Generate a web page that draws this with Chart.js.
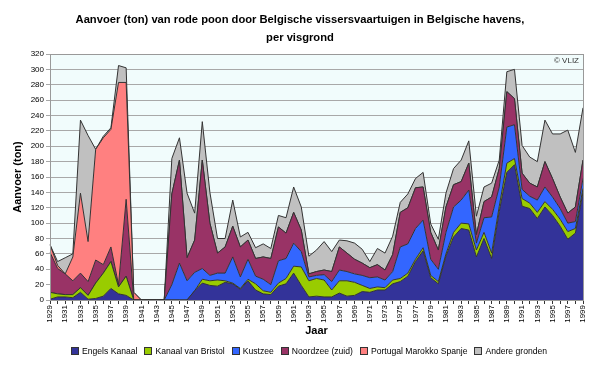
<!DOCTYPE html>
<html>
<head>
<meta charset="utf-8">
<script src="https://cdn.jsdelivr.net/npm/chart.js@4.4.1/dist/chart.umd.min.js"></script>
<style>
  body { margin: 0; background: #fff; }
  #wrap { position: relative; width: 600px; height: 368px; font-family: 'Liberation Sans', Arial, sans-serif; }
  #title {
    position: absolute; left: 0; top: 10px; width: 600px;
    text-align: center; font-weight: bold; font-size: 11.2px; line-height: 18px; color: #000;
  }
  #legend {
    position: absolute; left: 71px; top: 346px;
    display: flex; align-items: center; font-size: 8.6px; color: #000; white-space: nowrap;
  }
  #legend .item { display: flex; align-items: center; margin-right: 7px; }
  #legend .box { width: 6px; height: 6px; border: 1px solid #333; margin-right: 3px; }
</style>
</head>
<body>
<div id="wrap">
  <canvas id="chart" width="600" height="368"></canvas>
  <div id="title">Aanvoer (ton) van rode poon door Belgische vissersvaartuigen in Belgische havens,<br>per visgrond</div>
  <div id="legend"></div>
</div>
<script>
// Aanvoer rode poon per visgrond, 1929-1999 (ton)
const years = [
  "1929", "1930", "1931", "1932", "1933", "1934", "1935", "1936", "1937", "1938",
  "1939", "1940", "1941", "1942", "1943", "1944", "1945", "1946", "1947", "1948",
  "1949", "1950", "1951", "1952", "1953", "1954", "1955", "1956", "1957", "1958",
  "1959", "1960", "1961", "1962", "1963", "1964", "1965", "1966", "1967", "1968",
  "1969", "1970", "1971", "1972", "1973", "1974", "1975", "1976", "1977", "1978",
  "1979", "1980", "1981", "1982", "1983", "1984", "1985", "1986", "1987", "1988",
  "1989", "1990", "1991", "1992", "1993", "1994", "1995", "1996", "1997", "1998",
  "1999",
];

const engelsKanaal = [
  1, 4, 4, 3, 10, 1, 2, 5, 15, 8,
  6, 0, 0, 0, 0, 0, 0, 0, 0, 12,
  22, 19, 18, 23, 21, 14, 25, 13, 8, 7,
  18, 21, 35, 19, 4, 5, 4, 4, 9, 5,
  6, 11, 10, 13, 13, 21, 24, 31, 50, 64,
  29, 21, 57, 82, 93, 91, 56, 80, 54, 115,
  166, 176, 122, 119, 106, 121, 110, 96, 79, 87,
  140,
];

const kanaalBristol = [
  9, 4, 3, 4, 6, 5, 20, 30, 35, 9,
  25, 0, 0, 0, 0, 0, 0, 0, 0, 0,
  5, 6, 8, 2, 1, 1, 2, 8, 4, 3,
  4, 7, 9, 24, 21, 23, 22, 9, 16, 20,
  17, 8, 5, 4, 3, 5, 4, 4, 3, 4,
  3, 3, 3, 6, 7, 8, 9, 8, 7, 7,
  12, 8, 10, 7, 8, 7, 8, 9, 10, 6,
  5,
];

const kustzee = [
  0, 0, 0, 0, 0, 0, 0, 0, 0, 0,
  0, 0, 0, 0, 0, 0, 20, 48, 25, 24,
  14, 7, 9, 10, 34, 15, 26, 10, 15, 10,
  29, 26, 30, 20, 5, 4, 7, 11, 14, 12,
  11, 13, 14, 13, 10, 11, 41, 38, 40, 36,
  21, 16, 28, 33, 30, 44, 9, 19, 47, 25,
  47, 44, 12, 9, 16, 19, 16, 14, 11, 9,
  13,
];

const noordzeeZuid = [
  52, 33, 27, 18, 19, 18, 30, 11, 19, 3,
  100, 0, 0, 0, 0, 0, 118, 134, 30, 42,
  141, 68, 26, 34, 40, 39, 25, 23, 29, 34,
  44, 33, 40, 28, 4, 5, 6, 13, 30, 24,
  19, 16, 13, 16, 13, 22, 45, 47, 53, 43,
  35, 25, 33, 29, 24, 35, 11, 21, 26, 24,
  46, 34, 21, 17, 17, 33, 24, 15, 13, 19,
  24,
];

const portugalMarokkoSpanje = [
  10, 4, 0, 31, 104, 52, 144, 165, 153, 263,
  152, 10, 0, 0, 0, 0, 0, 0, 0, 0,
  0, 0, 0, 0, 0, 0, 0, 0, 0, 0,
  0, 0, 0, 0, 0, 0, 0, 0, 0, 0,
  0, 0, 0, 0, 0, 0, 0, 0, 0, 0,
  0, 0, 0, 0, 0, 0, 0, 0, 0, 0,
  0, 0, 0, 0, 0, 0, 0, 0, 0, 0,
  0,
];

const andereGronden = [
  0, 5, 21, 4, 95, 138, 0, 2, 2, 22,
  19, 0, 0, 0, 0, 0, 46, 29, 84, 35,
  50, 40, 19, 11, 34, 13, 10, 14, 17, 13,
  15, 20, 33, 30, 23, 28, 37, 26, 9, 16,
  21, 18, 8, 21, 22, 24, 13, 18, 12, 19,
  11, 14, 18, 21, 28, 29, 24, 19, 18, 11,
  26, 38, 36, 34, 33, 54, 58, 82, 108, 71,
  68,
];

const seriesNames = [
  "Engels Kanaal",
  "Kanaal van Bristol",
  "Kustzee",
  "Noordzee (zuid)",
  "Portugal Marokko Spanje",
  "Andere gronden",
];
const seriesColors = ["#333399", "#99cc00", "#3366ff", "#993366", "#ff8080", "#c0c0c0"];
const seriesData = [engelsKanaal, kanaalBristol, kustzee, noordzeeZuid, portugalMarokkoSpanje, andereGronden];

const FONT = "'Liberation Sans', Arial, sans-serif";

// legend as plain html under the chart
const legendEl = document.getElementById("legend");
seriesNames.forEach((name, i) => {
  const item = document.createElement("span");
  item.className = "item";
  const box = document.createElement("span");
  box.className = "box";
  box.style.background = seriesColors[i];
  item.appendChild(box);
  item.appendChild(document.createTextNode(name));
  legendEl.appendChild(item);
});

// plot background + frame + copyright note
const plotBackground = {
  id: "plotBackground",
  beforeDraw(chart) {
    const { ctx, chartArea: a } = chart;
    ctx.save();
    ctx.fillStyle = "#f1fcfc";
    ctx.fillRect(a.left, a.top, a.right - a.left, a.bottom - a.top);
    ctx.restore();
  },
  afterDraw(chart) {
    const { ctx, chartArea: a } = chart;
    ctx.save();
    ctx.strokeStyle = "#999";
    ctx.lineWidth = 1;
    ctx.strokeRect(a.left + 0.5, a.top + 0.5, a.right - a.left, a.bottom - a.top);
    ctx.fillStyle = "#333";
    ctx.font = "8px " + FONT;
    ctx.textAlign = "right";
    ctx.textBaseline = "top";
    ctx.fillText("© VLIZ", a.right - 4, a.top + 3);
    ctx.restore();
  },
};

const datasets = seriesData.map((data, i) => ({
  label: seriesNames[i],
  data,
  backgroundColor: seriesColors[i],
  borderColor: "#333",
  borderWidth: 1,
  pointRadius: 0,
  tension: 0,
  fill: i === 0 ? "origin" : "-1",
}));

new Chart(document.getElementById("chart"), {
  type: "line",
  data: { labels: years, datasets },
  plugins: [plotBackground],
  options: {
    responsive: false,
    animation: false,
    layout: { padding: { left: 0, right: 17, top: 54, bottom: 30 } },
    plugins: {
      title: { display: false },
      legend: { display: false },
      tooltip: { enabled: false },
    },
    scales: {
      x: {
        offset: false,
        grid: { display: true, drawOnChartArea: false, color: "#333", tickLength: 4 },
        border: { color: "#333" },
        ticks: {
          autoSkip: false,
          maxRotation: 90,
          minRotation: 90,
          color: "#000",
          font: { family: FONT, size: 8 },
          padding: 1,
          callback: (v, i) => (i % 2 === 0 ? years[i] : ""),
        },
        title: {
          display: true,
          text: "Jaar",
          color: "#000",
          font: { family: FONT, size: 11, weight: "bold" },
          padding: { top: 2, bottom: 0 },
        },
        afterFit(scale) {
          scale.height = 38;
        },
      },
      y: {
        stacked: true,
        min: 0,
        max: 320,
        grid: { color: "#a8a8a8", tickLength: 4 },
        border: { color: "#333" },
        ticks: {
          stepSize: 20,
          color: "#000",
          font: { family: FONT, size: 8 },
          padding: 2,
        },
        title: {
          display: true,
          text: "Aanvoer (ton)",
          color: "#000",
          font: { family: FONT, size: 11, weight: "bold" },
          padding: { top: 11, bottom: 4 },
        },
        afterFit(scale) {
          scale.width = 50;
        },
      },
    },
  },
});
</script>
</body>
</html>
